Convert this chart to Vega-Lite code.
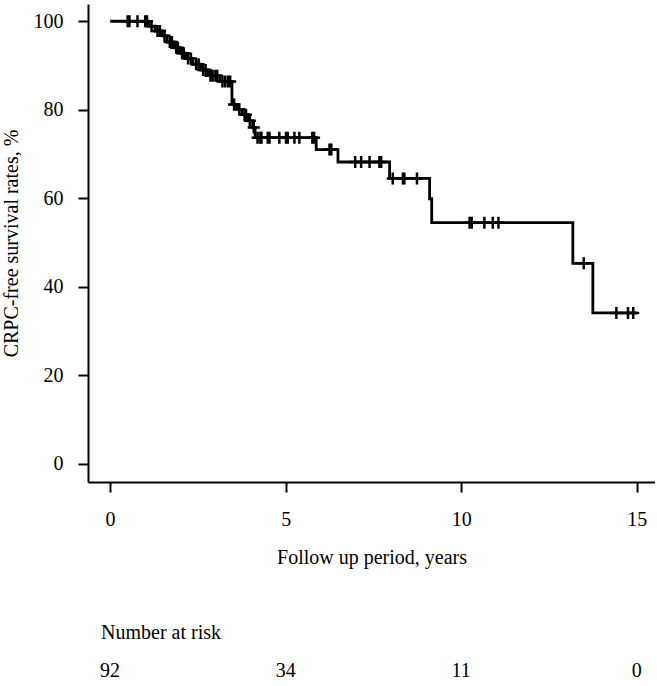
{
  "$schema": "https://vega.github.io/schema/vega-lite/v6.json",
  "padding": {"left": 1, "top": 4, "right": 0, "bottom": 0},
  "background": "white",
  "config": {
    "view": {"stroke": null},
    "font": "Liberation Serif",
    "axis": {
      "labelFont": "Liberation Serif", "labelFontSize": 20, "labelColor": "black",
      "titleFont": "Liberation Serif", "titleFontSize": 20, "titleFontWeight": "normal", "titleColor": "black",
      "domainColor": "black", "domainWidth": 2, "tickColor": "black", "tickWidth": 2, "tickSize": 10,
      "grid": false
    },
    "title": {"font": "Liberation Serif", "fontSize": 20, "fontWeight": "normal", "color": "black"}
  },
  "datasets": {
    "km": [
      {"t": 0, "s": 100}, {"t": 1.10, "s": 98.9}, {"t": 1.28, "s": 97.8}, {"t": 1.48, "s": 96.7},
      {"t": 1.62, "s": 95.3}, {"t": 1.82, "s": 94.0}, {"t": 1.98, "s": 92.8}, {"t": 2.15, "s": 91.6},
      {"t": 2.36, "s": 90.3}, {"t": 2.58, "s": 89.0}, {"t": 2.80, "s": 87.7}, {"t": 3.12, "s": 86.4},
      {"t": 3.47, "s": 81.2}, {"t": 3.60, "s": 80.1}, {"t": 3.76, "s": 78.9}, {"t": 3.92, "s": 77.5},
      {"t": 4.06, "s": 76.0}, {"t": 4.13, "s": 73.7}, {"t": 5.87, "s": 71.0}, {"t": 6.49, "s": 68.2},
      {"t": 7.96, "s": 64.5}, {"t": 9.10, "s": 59.9}, {"t": 9.16, "s": 54.5}, {"t": 13.18, "s": 45.3},
      {"t": 13.75, "s": 34.1}, {"t": 15.0, "s": 34.1}
    ],
    "cens": [
      {"t": 0.50, "s": 100}, {"t": 0.55, "s": 100}, {"t": 0.78, "s": 100}, {"t": 1.00, "s": 100}, {"t": 1.05, "s": 100},
      {"t": 1.18, "s": 98.9}, {"t": 1.35, "s": 97.8}, {"t": 1.42, "s": 97.8}, {"t": 1.55, "s": 96.7},
      {"t": 1.70, "s": 95.3}, {"t": 1.76, "s": 95.3}, {"t": 1.88, "s": 94.0}, {"t": 1.93, "s": 94.0},
      {"t": 2.05, "s": 92.8}, {"t": 2.10, "s": 92.8}, {"t": 2.22, "s": 91.6}, {"t": 2.30, "s": 91.6},
      {"t": 2.45, "s": 90.3}, {"t": 2.52, "s": 90.3}, {"t": 2.65, "s": 89.0}, {"t": 2.72, "s": 89.0},
      {"t": 2.86, "s": 87.7}, {"t": 2.92, "s": 87.7}, {"t": 3.00, "s": 87.7}, {"t": 3.05, "s": 87.7},
      {"t": 3.20, "s": 86.4}, {"t": 3.28, "s": 86.4}, {"t": 3.36, "s": 86.4}, {"t": 3.42, "s": 86.4},
      {"t": 3.53, "s": 81.2}, {"t": 3.68, "s": 80.1}, {"t": 3.83, "s": 78.9}, {"t": 3.87, "s": 78.9},
      {"t": 3.98, "s": 77.5}, {"t": 4.09, "s": 76.0},
      {"t": 4.20, "s": 73.7}, {"t": 4.28, "s": 73.7}, {"t": 4.31, "s": 73.7}, {"t": 4.49, "s": 73.7},
      {"t": 4.54, "s": 73.7}, {"t": 4.82, "s": 73.7}, {"t": 5.01, "s": 73.7}, {"t": 5.06, "s": 73.7},
      {"t": 5.25, "s": 73.7}, {"t": 5.39, "s": 73.7}, {"t": 5.76, "s": 73.7}, {"t": 5.81, "s": 73.7},
      {"t": 6.25, "s": 71.0}, {"t": 6.30, "s": 71.0},
      {"t": 6.98, "s": 68.2}, {"t": 7.15, "s": 68.2}, {"t": 7.39, "s": 68.2}, {"t": 7.67, "s": 68.2}, {"t": 7.72, "s": 68.2},
      {"t": 8.05, "s": 64.5}, {"t": 8.34, "s": 64.5}, {"t": 8.38, "s": 64.5}, {"t": 8.74, "s": 64.5},
      {"t": 10.24, "s": 54.5}, {"t": 10.30, "s": 54.5}, {"t": 10.66, "s": 54.5}, {"t": 10.90, "s": 54.5}, {"t": 11.06, "s": 54.5},
      {"t": 13.49, "s": 45.3},
      {"t": 14.42, "s": 34.1}, {"t": 14.75, "s": 34.1}, {"t": 14.90, "s": 34.1}
    ],
    "risk": [
      {"t": 0, "n": "92"}, {"t": 5, "n": "34"}, {"t": 10, "n": "11"}, {"t": 15, "n": "0"}
    ]
  },
  "vconcat": [
    {
      "width": 567,
      "height": 478,
      "layer": [
        {
          "data": {"name": "km"},
          "mark": {"type": "line", "interpolate": "step-after", "color": "black", "strokeWidth": 2.8},
          "encoding": {
            "x": {"field": "t", "type": "quantitative",
              "scale": {"domain": [-0.63, 15.52], "nice": false, "zero": false},
              "axis": {"title": "Follow up period, years", "values": [0, 5, 10, 15], "labelPadding": 17, "titlePadding": 18}},
            "y": {"field": "s", "type": "quantitative",
              "scale": {"domain": [-4.1, 103.9], "nice": false, "zero": false},
              "axis": {"title": "CRPC-free survival rates, %", "values": [0, 20, 40, 60, 80, 100], "labelPadding": 15, "titlePadding": 12}}
          }
        },
        {
          "data": {"name": "cens"},
          "mark": {"type": "point", "shape": "M-1,0H1M0,-1V1", "filled": false, "stroke": "black", "strokeWidth": 2.5, "size": 144, "opacity": 1},
          "encoding": {
            "x": {"field": "t", "type": "quantitative"},
            "y": {"field": "s", "type": "quantitative"}
          }
        }
      ]
    },
    {
      "width": 567,
      "height": 20,
      "title": {"text": "Number at risk", "anchor": "start", "dx": 13, "offset": 18},
      "data": {"name": "risk"},
      "mark": {"type": "text", "fontSize": 20, "font": "Liberation Serif", "color": "black", "baseline": "middle"},
      "encoding": {
        "x": {"field": "t", "type": "quantitative", "scale": {"domain": [-0.63, 15.52], "nice": false, "zero": false}, "axis": null},
        "text": {"field": "n", "type": "nominal"}
      }
    }
  ],
  "spacing": 56
}
